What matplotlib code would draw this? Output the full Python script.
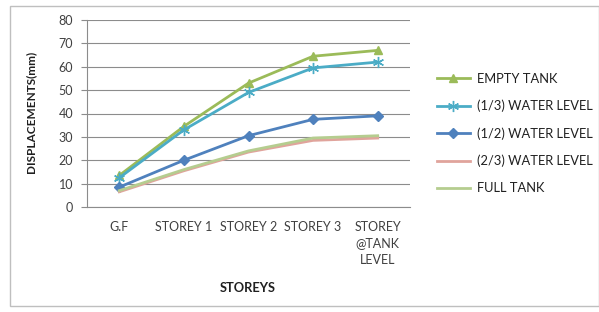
import matplotlib
matplotlib.use("Agg")
import matplotlib.pyplot as plt
from matplotlib.patches import Rectangle

plt.rcParams['font.family'] = ['Lato', 'DejaVu Sans']

categories = ["G.F", "STOREY 1", "STOREY 2", "STOREY 3", "STOREY\n@TANK\nLEVEL"]
empty_tank = [13.5, 34.5, 53, 64.5, 67]
third_level = [12.5, 33, 49, 59.5, 62]
half_level = [8.5, 20, 30.5, 37.5, 39]
two_third_level = [6.5, 15.5, 23.5, 28.5, 29.5]
full_tank = [7, 16, 24, 29.5, 30.5]

series = [
    ("EMPTY TANK", empty_tank, "#9BBB59", "^", 6),
    ("(1/3) WATER LEVEL", third_level, "#4BACC6", (6, 2, 0), 8),
    ("(1/2) WATER LEVEL", half_level, "#4F81BD", "D", 5),
    ("(2/3) WATER LEVEL", two_third_level, "#E0A49C", None, 0),
    ("FULL TANK", full_tank, "#B5CD8F", None, 0),
]

fig = plt.figure(figsize=(5.99, 3.12), dpi=100)
fig.patches.append(Rectangle((10/599, 6/312), 1 - 10/599, 1 - 6/312 - 6/312,
                             transform=fig.transFigure, fill=False,
                             edgecolor="#BFBFBF", linewidth=1.0))
ax = fig.add_axes([87/599, 1 - 207/312, (410 - 87)/599, (207 - 20)/312])

x = list(range(len(categories)))
for label, vals, color, marker, ms in series:
    ax.plot(x, vals, color=color, linewidth=2, marker=marker, markersize=ms,
            markeredgecolor=color, markerfacecolor=color, label=label)

ax.set_xlim(-0.5, len(categories) - 0.5)
ax.set_ylim(0, 80)
ax.set_yticks(range(0, 81, 10))
ax.set_xticks(x)
ax.set_xticklabels(categories, fontsize=9, color="#404040", linespacing=1.45)
ax.tick_params(axis='y', labelsize=9, labelcolor="#404040", length=4, color="#8C8C8C", pad=6)
ax.tick_params(axis='x', length=0, pad=10)
ax.grid(axis='y', color="#8C8C8C", linewidth=0.8)
ax.set_axisbelow(True)
for s in ["top", "right"]:
    ax.spines[s].set_visible(False)
ax.spines["left"].set_color("#8C8C8C")
ax.spines["bottom"].set_color("#8C8C8C")

ax.set_ylabel("DISPLACEMENTS(mm)", fontsize=8.5, fontweight="bold", color="#202020")
ax.yaxis.set_label_coords(36/599, 1 - 112/312, transform=fig.transFigure)
ax.set_xlabel("STOREYS", fontsize=9.3, fontweight="bold", color="#202020")
ax.xaxis.set_label_coords(248/599, 1 - 288/312, transform=fig.transFigure)
ax.xaxis.label.set_va("center")

ax.legend(loc="upper left", bbox_to_anchor=(425/599, 1 - 61/312), bbox_transform=fig.transFigure,
          frameon=False, fontsize=9.3, labelspacing=1.16, handlelength=2.6, handletextpad=0.5,
          labelcolor="#202020")

fig.savefig("out.png", dpi=100)
